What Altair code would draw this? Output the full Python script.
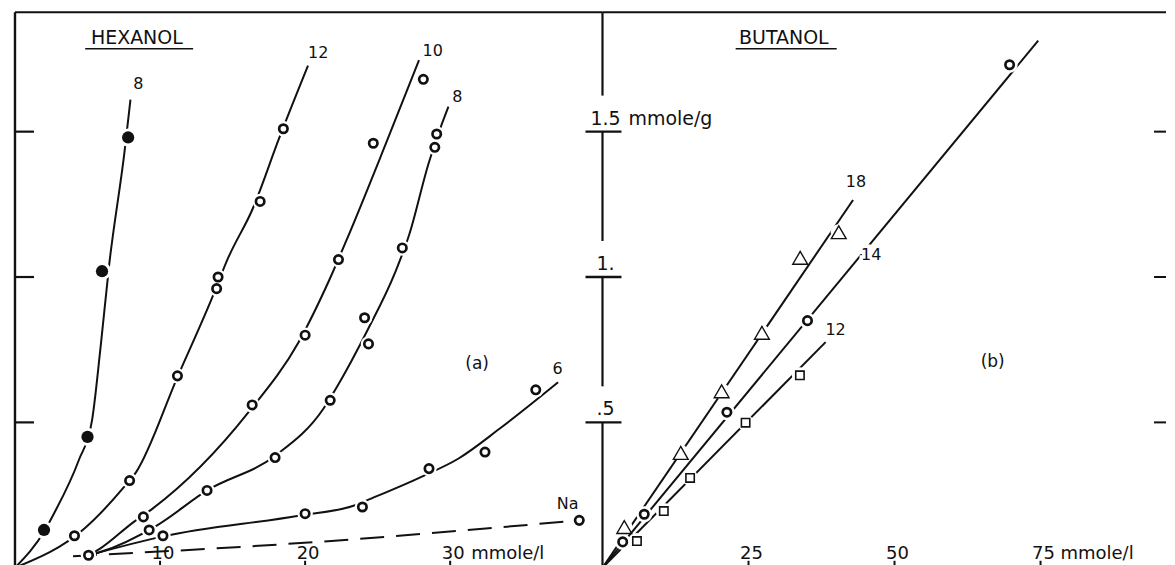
import altair as alt
import pandas as pd

FONT = "DejaVu Sans"
INK = "#111111"

# ---------------- (a) HEXANOL : measured points ----------------
a8f_x = [2.0, 5.0, 6.0, 7.8]                       # filled circles, curve "8"
a8f_y = [0.13, 0.45, 1.02, 1.48]
a12_x = [4.1, 7.9, 11.2, 13.9, 14.0, 16.9, 18.5]
a12_y = [0.11, 0.30, 0.66, 0.96, 1.00, 1.26, 1.51]
a10_x = [8.85, 16.35, 20.0, 22.3, 24.7, 28.15]
a10_y = [0.175, 0.56, 0.80, 1.06, 1.46, 1.68]
a8_x = [9.25, 13.24, 17.93, 21.73, 24.37, 24.1, 26.7, 28.94, 29.07]
a8_y = [0.13, 0.266, 0.379, 0.576, 0.77, 0.86, 1.10, 1.446, 1.492]
a6_x = [10.2, 20.0, 23.95, 28.54, 32.4, 35.9]
a6_y = [0.11, 0.186, 0.209, 0.341, 0.398, 0.612]
aNa_x = [5.07, 38.9]
aNa_y = [0.043, 0.163]

# (a) drawn curves
c8f_x = [0.0, 2.07, 2.68, 4.39, 5.31, 5.9, 6.5, 7.56, 7.96]
c8f_y = [0.0, 0.13, 0.186, 0.369, 0.507, 0.759, 1.045, 1.435, 1.61]
c12_x = [0.0, 4.79, 7.42, 8.35, 11.2, 13.6, 14.67, 16.38, 18.23, 20.2]
c12_y = [0.0, 0.135, 0.272, 0.329, 0.656, 0.93, 1.063, 1.234, 1.48, 1.727]
c10_x = [5.07, 5.87, 8.17, 9.4, 16.1, 19.55, 21.65, 22.84, 25.6, 27.85]
c10_y = [0.043, 0.066, 0.157, 0.2, 0.535, 0.776, 0.988, 1.125, 1.463, 1.746]
c8_x = [5.07, 5.87, 9.8, 13.24, 17.93, 21.26, 22.18, 24.29, 26.2, 27.19, 28.5, 29.3, 29.88]
c8_y = [0.043, 0.054, 0.146, 0.266, 0.385, 0.547, 0.621, 0.816, 1.015, 1.148, 1.389, 1.509, 1.586]
c6_x = [5.07, 10.2, 19.65, 23.44, 24.55, 27.98, 30.55, 33.4, 37.44]
c6_y = [0.043, 0.108, 0.18, 0.215, 0.238, 0.312, 0.375, 0.478, 0.638]
cNa_x = [4.0, 19.4, 38.9]
cNa_y = [0.04, 0.084, 0.163]

a_lab = ["8", "12", "10", "8", "6", "Na"]
a_lab_x = [8.5, 20.9, 28.8, 30.5, 37.4, 38.1]
a_lab_y = [1.665, 1.769, 1.776, 1.618, 0.684, 0.218]

# ---------------- (b) BUTANOL ----------------
b18_x = [3.73, 13.4, 20.4, 27.3, 33.85, 40.45]      # triangles
b18_y = [0.14, 0.395, 0.607, 0.808, 1.066, 1.154]
b14_x = [3.46, 7.15, 21.3, 35.1, 69.7]              # circles
b14_y = [0.089, 0.184, 0.535, 0.85, 1.73]
b12_x = [5.9, 10.5, 15.0, 24.5, 33.8]               # squares
b12_y = [0.092, 0.195, 0.309, 0.499, 0.662]

l18_x = [0.0, 42.9]
l18_y = [0.0, 1.265]
l14_x = [0.0, 74.6]
l14_y = [0.0, 1.813]
l12_x = [0.0, 38.2]
l12_y = [0.0, 0.776]

b_lab = ["18", "14", "12"]
b_lab_x = [43.4, 46.0, 39.9]
b_lab_y = [1.326, 1.077, 0.818]

# axes
y_ticks = [0.5, 1.0, 1.5]
y_tick_labels = [".5", "1.", "1.5"]
a_xticks = [10, 20, 30]
b_xticks = [25, 50, 75]

# ---------------- helpers ----------------
WA, WB, H = 588, 564, 556
Y_MIN, Y_MAX = 0.0, 1.9107
XA = alt.Scale(domain=[0, 40.5], nice=False, zero=False)
XB = alt.Scale(domain=[0, 96.48], nice=False, zero=False)
YS = alt.Scale(domain=[Y_MIN, Y_MAX], nice=False, zero=False)


def pts(xs, ys, **extra):
    d = {"x": xs, "y": ys}
    d.update(extra)
    return pd.DataFrame(d)


def curves(named):
    rows = []
    for name, (xs, ys) in named.items():
        for i, (x, y) in enumerate(zip(xs, ys)):
            rows.append({"curve": name, "i": i, "x": x, "y": y})
    return pd.DataFrame(rows)


def xy(xs):
    return dict(x=alt.X("x:Q", scale=xs, axis=None),
                y=alt.Y("y:Q", scale=YS, axis=None))


one = pd.DataFrame({"v": [0]})


def hline_top(w):
    return alt.Chart(one).mark_rule(stroke=INK, strokeWidth=2).encode(
        x=alt.value(0), x2=alt.value(w), y=alt.value(0))


def bottom_ticks(vals, xs, unit_dx):
    d = pd.DataFrame({"x": vals, "t": [str(v) for v in vals]})
    ticks = alt.Chart(d).mark_rule(stroke=INK, strokeWidth=2).encode(
        x=alt.X("x:Q", scale=xs, axis=None), y=alt.value(H - 7), y2=alt.value(H))
    labels = alt.Chart(d).mark_text(font=FONT, fontSize=18, color=INK, baseline="alphabetic",
                                    dx=3).encode(
        x=alt.X("x:Q", scale=xs, axis=None), y=alt.value(H - 9), text="t:N")
    unit = alt.Chart(d.tail(1)).mark_text(font=FONT, fontSize=18, color=INK, baseline="alphabetic",
                                          align="left", dx=unit_dx).encode(
        x=alt.X("x:Q", scale=xs, axis=None), y=alt.value(H - 9), text=alt.value("mmole/l"))
    return [ticks, labels, unit]


def label_layers(texts, xs_, ys_, xs, size=16):
    d = pts(xs_, ys_, t=texts)
    halo = alt.Chart(d).mark_text(font=FONT, fontSize=size, stroke="white", strokeWidth=7,
                                  fill="white", baseline="middle").encode(**xy(xs), text="t:N")
    txt = alt.Chart(d).mark_text(font=FONT, fontSize=size, color=INK,
                                 baseline="middle").encode(**xy(xs), text="t:N")
    return [halo, txt]


# ---------------- panel (a) ----------------
a_curves = alt.Chart(curves({
    "8f": (c8f_x, c8f_y), "12": (c12_x, c12_y), "10": (c10_x, c10_y),
    "8": (c8_x, c8_y), "6": (c6_x, c6_y)})).mark_line(
    interpolate="monotone", stroke=INK, strokeWidth=2, clip=True).encode(
    **xy(XA), detail="curve:N", order="i:Q")
a_na = alt.Chart(curves({"Na": (cNa_x, cNa_y)})).mark_line(
    interpolate="monotone", stroke=INK, strokeWidth=2, strokeDash=[24, 12], clip=True).encode(
    **xy(XA), detail="curve:N", order="i:Q")

a_open = pd.concat([pts(a12_x, a12_y), pts(a10_x, a10_y), pts(a8_x, a8_y),
                    pts(a6_x, a6_y), pts(aNa_x, aNa_y)])
a_fill = pts(a8f_x, a8f_y)

a_layers = [
    hline_top(WA),
    alt.Chart(one).mark_rule(stroke=INK, strokeWidth=2.4).encode(
        x=alt.value(0), y=alt.value(0), y2=alt.value(H)),
    alt.Chart(pd.DataFrame({"y": y_ticks})).mark_rule(stroke=INK, strokeWidth=2.2).encode(
        x=alt.value(0), x2=alt.value(19), y=alt.Y("y:Q", scale=YS, axis=None)),
    a_curves, a_na,
    alt.Chart(a_open).mark_circle(color="white", opacity=1, size=240, clip=True).encode(**xy(XA)),
    alt.Chart(a_fill).mark_circle(color="white", opacity=1, size=330, clip=True).encode(**xy(XA)),
    alt.Chart(a_open).mark_point(shape="circle", filled=False, stroke=INK, strokeWidth=2.7,
                                 opacity=1, size=70, clip=True).encode(**xy(XA)),
    alt.Chart(a_fill).mark_circle(color=INK, opacity=1, size=150, clip=True).encode(**xy(XA)),
] + bottom_ticks(a_xticks, XA, 21) + label_layers(a_lab, a_lab_x, a_lab_y, XA) + [
    alt.Chart(pts([31.86], [0.702], t=["(a)"])).mark_text(
        font=FONT, fontSize=17, color=INK, baseline="middle").encode(**xy(XA), text="t:N"),
    alt.Chart(pts([8.4], [1.803], t=["HEXANOL"])).mark_text(
        font=FONT, fontSize=19, color=INK, baseline="alphabetic").encode(**xy(XA), text="t:N"),
    alt.Chart(pd.DataFrame({"x": [4.84], "x2": [12.28], "y": [1.785]})).mark_rule(
        stroke=INK, strokeWidth=1.6).encode(
        x=alt.X("x:Q", scale=XA, axis=None), x2="x2:Q", y=alt.Y("y:Q", scale=YS, axis=None)),
]
panel_a = alt.layer(*a_layers).properties(width=WA, height=H)

# ---------------- panel (b) ----------------
b_lines = alt.Chart(curves({"18": (l18_x, l18_y), "14": (l14_x, l14_y),
                            "12": (l12_x, l12_y)})).mark_line(
    stroke=INK, strokeWidth=2, clip=True).encode(**xy(XB), detail="curve:N", order="i:Q")

b_tri = pts(b18_x, b18_y)
b_circ = pts(b14_x, b14_y)
b_sq = pts(b12_x, b12_y)
b_all = pd.concat([b_tri, b_circ, b_sq])

seg_lo = [Y_MIN] + [t + 0.124 for t in y_ticks]
seg_hi = y_ticks + [Y_MAX]

b_layers = [
    hline_top(WB),
    alt.Chart(pd.DataFrame({"y": seg_lo, "y2": seg_hi})).mark_rule(
        stroke=INK, strokeWidth=2.2).encode(
        x=alt.value(0), y=alt.Y("y:Q", scale=YS, axis=None), y2="y2:Q"),
    alt.Chart(pd.DataFrame({"y": y_ticks})).mark_rule(stroke=INK, strokeWidth=2.4).encode(
        x=alt.value(-17), x2=alt.value(19), y=alt.Y("y:Q", scale=YS, axis=None)),
    alt.Chart(pd.DataFrame({"y": y_ticks, "t": y_tick_labels})).mark_text(
        font=FONT, fontSize=19, color=INK, baseline="alphabetic", dy=-7).encode(
        x=alt.value(3), y=alt.Y("y:Q", scale=YS, axis=None), text="t:N"),
    alt.Chart(pd.DataFrame({"y": [y_ticks[-1]]})).mark_text(
        font=FONT, fontSize=19, color=INK, baseline="alphabetic", align="left", dy=-7).encode(
        x=alt.value(26), y=alt.Y("y:Q", scale=YS, axis=None), text=alt.value("mmole/g")),
    alt.Chart(pd.DataFrame({"y": y_ticks})).mark_rule(stroke=INK, strokeWidth=2).encode(
        x=alt.value(WB - 12), x2=alt.value(WB), y=alt.Y("y:Q", scale=YS, axis=None)),
    b_lines,
    alt.Chart(b_all).mark_circle(color="white", opacity=1, size=260, clip=True).encode(**xy(XB)),
    alt.Chart(b_tri).mark_point(shape="triangle-up", filled=False, stroke=INK, strokeWidth=1.4,
                                opacity=1, size=220, clip=True).encode(**xy(XB)),
    alt.Chart(b_circ).mark_point(shape="circle", filled=False, stroke=INK, strokeWidth=2.7,
                                 opacity=1, size=70, clip=True).encode(**xy(XB)),
    alt.Chart(b_sq).mark_point(shape="square", filled=False, stroke=INK, strokeWidth=1.6,
                               opacity=1, size=70, clip=True).encode(**xy(XB)),
] + bottom_ticks(b_xticks, XB, 20) + label_layers(b_lab, b_lab_x, b_lab_y, XB) + [
    alt.Chart(pts([66.8], [0.707], t=["(b)"])).mark_text(
        font=FONT, fontSize=17, color=INK, baseline="middle").encode(**xy(XB), text="t:N"),
    alt.Chart(pts([31.05], [1.803], t=["BUTANOL"])).mark_text(
        font=FONT, fontSize=19, color=INK, baseline="alphabetic").encode(**xy(XB), text="t:N"),
    alt.Chart(pd.DataFrame({"x": [22.8], "x2": [40.1], "y": [1.785]})).mark_rule(
        stroke=INK, strokeWidth=1.6).encode(
        x=alt.X("x:Q", scale=XB, axis=None), x2="x2:Q", y=alt.Y("y:Q", scale=YS, axis=None)),
]
panel_b = alt.layer(*b_layers).properties(width=WB, height=H)

chart = alt.hconcat(panel_a, panel_b, spacing=0, bounds="flush").properties(
    padding={"left": 5, "top": 2, "right": 0, "bottom": 0},
    background="white",
).configure_view(stroke=None)

chart.save("out.html", embed_options={"renderer": "svg", "actions": False})
